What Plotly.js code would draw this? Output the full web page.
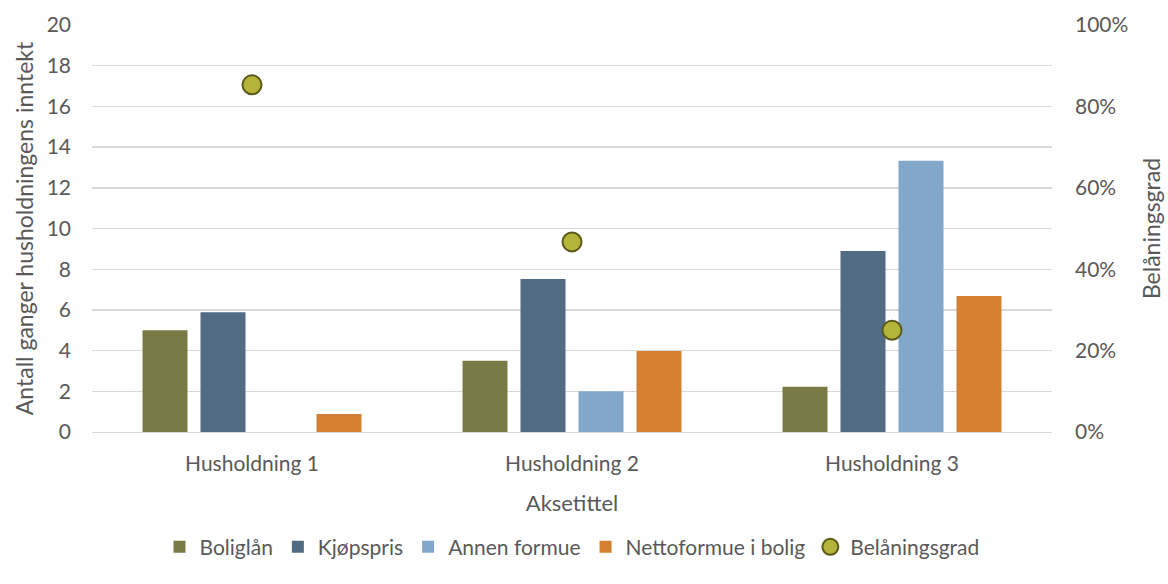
<!DOCTYPE html>
<html>
<head>
<meta charset="utf-8">
<script src="https://cdn.plot.ly/plotly-3.0.1.min.js"></script>
<style>html,body{margin:0;padding:0;background:#fff}#chart{width:1168px;height:584px}</style>
</head>
<body>
<div id="chart"></div>
<script>
const categories = ["Husholdning 1", "Husholdning 2", "Husholdning 3"];
const boliglan = [5.0, 3.5, 2.22];
const kjopspris = [5.88, 7.52, 8.9];
const annenFormue = [0, 2.0, 13.33];
const nettoformue = [0.88, 3.98, 6.68];
const belaningsgrad = [0.853, 0.467, 0.25];
const yTicks = [0, 2, 4, 6, 8, 10, 12, 14, 16, 18, 20];
const y2Ticks = [0, 0.2, 0.4, 0.6, 0.8, 1.0];

const font = "Lato, 'Open Sans', sans-serif";
const traces = [
  {type: "bar", name: "Boliglån", x: categories, y: boliglan, marker: {color: "#7a7a46"}},
  {type: "bar", name: "Kjøpspris", x: categories, y: kjopspris, marker: {color: "#526b84"}},
  {type: "bar", name: "Annen formue", x: categories, y: annenFormue, marker: {color: "#82a7cb"}},
  {type: "bar", name: "Nettoformue i bolig", x: categories, y: nettoformue, marker: {color: "#d48033"}},
  {type: "scatter", mode: "markers", name: "Belåningsgrad", x: categories, y: belaningsgrad, yaxis: "y2",
   marker: {color: "#b5b43a", size: 19, line: {color: "#5a5a1a", width: 2}}}
];
const layout = {
  width: 1168, height: 584,
  margin: {l: 92, r: 116, t: 25, b: 152},
  paper_bgcolor: "#fff", plot_bgcolor: "#fff",
  font: {family: font, size: 20, color: "#595959"},
  barmode: "group", bargap: 0.275, bargroupgap: 0.224,
  showlegend: true,
  legend: {orientation: "h", x: 0.5, xanchor: "center", y: -0.283, yanchor: "middle",
           font: {size: 21, color: "#595959"}, traceorder: "normal", itemwidth: 30},
  xaxis: {tickfont: {size: 21}, title: {text: "Aksetittel", font: {size: 22}, standoff: 22},
          showline: true, linecolor: "#d9d9d9", linewidth: 1.3, ticks: "", ticklabelstandoff: 12},
  yaxis: {range: [0, 20], tickvals: yTicks, showgrid: true, gridcolor: "#d9d9d9", gridwidth: 1.4,
          zeroline: false, ticks: "", tickfont: {size: 21}, ticklabelstandoff: 20,
          title: {text: "Antall ganger husholdningens inntekt", font: {size: 23}, standoff: 6}},
  yaxis2: {range: [0, 1], tickvals: y2Ticks, tickformat: ".0%", overlaying: "y", side: "right",
           showgrid: false, zeroline: false, ticks: "", tickfont: {size: 21}, ticklabelstandoff: 22,
           title: {text: "Belåningsgrad", font: {size: 23}, standoff: 16}}
};
Plotly.newPlot("chart", traces, layout, {displayModeBar: false, staticPlot: true});
</script>
</body>
</html>
